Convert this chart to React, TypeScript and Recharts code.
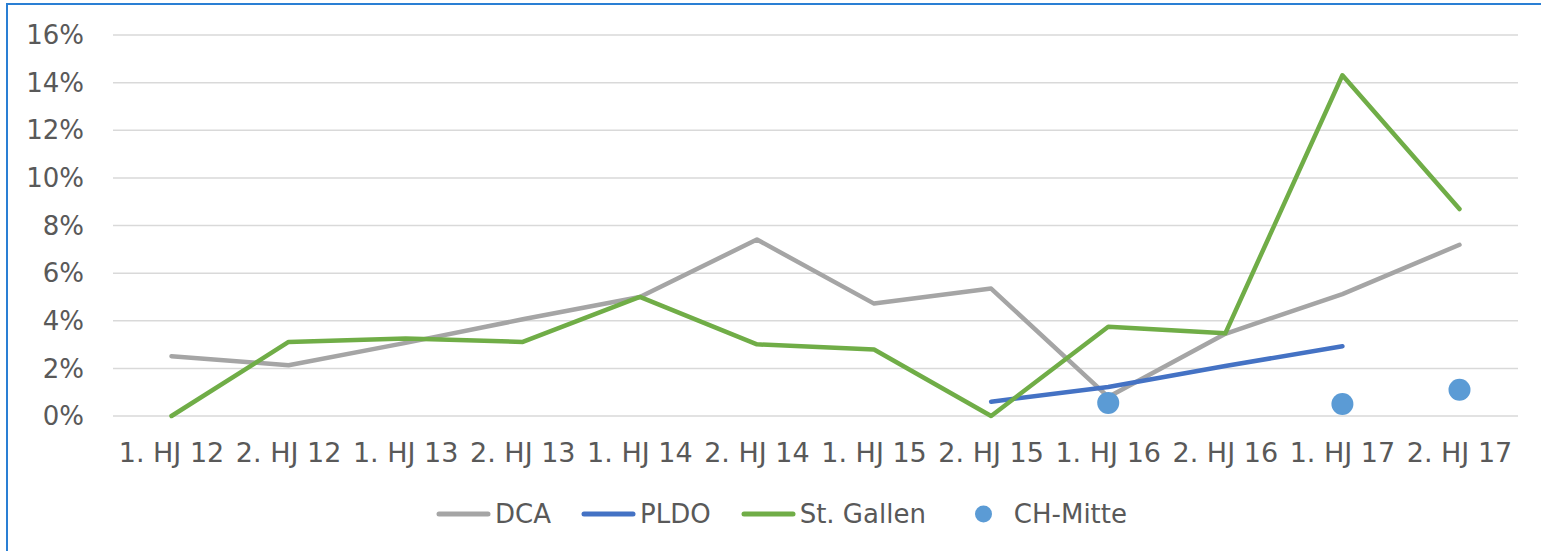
import { CartesianGrid, Line, LineChart, XAxis, YAxis } from "recharts";

const periods = [
  "1. HJ 12",
  "2. HJ 12",
  "1. HJ 13",
  "2. HJ 13",
  "1. HJ 14",
  "2. HJ 14",
  "1. HJ 15",
  "2. HJ 15",
  "1. HJ 16",
  "2. HJ 16",
  "1. HJ 17",
  "2. HJ 17",
];

const dca = [2.51, 2.13, 3.07, 4.06, 5.0, 7.41, 4.72, 5.35, 0.8, 3.45, 5.12, 7.19];
const pldo = [null, null, null, null, null, null, null, 0.6, 1.22, 2.1, 2.93, null];
const stGallen = [0, 3.11, 3.25, 3.11, 5.0, 3.01, 2.79, 0, 3.75, 3.47, 14.31, 8.69];
const chMitte = [null, null, null, null, null, null, null, null, 0.55, null, 0.5, 1.1];

const yTicks = [0, 2, 4, 6, 8, 10, 12, 14, 16];

const COLORS = {
  dca: "#a5a5a5",
  pldo: "#4472c4",
  stGallen: "#70ad47",
  chMitte: "#5b9bd5",
};

const FONT = "'DejaVu Sans', Verdana, sans-serif";
const TEXT = "#595959";

const data = periods.map((period, i) => ({
  period,
  dca: dca[i],
  pldo: pldo[i],
  stGallen: stGallen[i],
  chMitte: chMitte[i],
}));

const legendItems = [
  { label: "DCA", color: COLORS.dca, kind: "line" },
  { label: "PLDO", color: COLORS.pldo, kind: "line" },
  { label: "St. Gallen", color: COLORS.stGallen, kind: "line" },
  { label: "CH-Mitte", color: COLORS.chMitte, kind: "dot" },
];

function ChDot(props: any) {
  const { cx, cy, value, index } = props;
  if (value == null || cy == null) return <g key={`d-${index}`} />;
  return <circle key={`d-${index}`} cx={cx} cy={cy} r={11} fill={COLORS.chMitte} />;
}

export default function App() {
  return (
    <div
      style={{
        position: "absolute",
        left: 0,
        top: 0,
        width: 1541,
        height: 551,
        background: "#fff",
        overflow: "hidden",
        fontFamily: FONT,
      }}
    >
      <div
        style={{
          position: "absolute",
          left: 6,
          top: 3,
          width: 1600,
          height: 600,
          borderLeft: "2px solid #2a7fd4",
          borderTop: "2px solid #2a7fd4",
        }}
      />
      <div style={{ position: "absolute", left: 0, top: 0 }}>
        <LineChart
          width={1541}
          height={551}
          data={data}
          margin={{ top: 35, right: 23, left: 13, bottom: 75 }}
        >
          <CartesianGrid vertical={false} stroke="#d9d9d9" strokeWidth={1.5} />
          <XAxis
            dataKey="period"
            interval={0}
            axisLine={false}
            tickLine={false}
            height={60}
            tickMargin={21}
            padding={{ left: 58.5, right: 58.5 }}
            tick={{ fill: TEXT, fontSize: 27, fontFamily: FONT }}
          />
          <YAxis
            domain={[0, 16]}
            ticks={yTicks}
            width={100}
            axisLine={false}
            tickLine={false}
            tickMargin={23}
            tickFormatter={(v: number) => `${v}%`}
            tick={{ fill: TEXT, fontSize: 26, fontFamily: FONT }}
          />
          <Line
            type="linear"
            dataKey="dca"
            stroke={COLORS.dca}
            strokeWidth={4.5}
            strokeLinecap="round"
            strokeLinejoin="round"
            dot={false}
            isAnimationActive={false}
          />
          <Line
            type="linear"
            dataKey="pldo"
            stroke={COLORS.pldo}
            strokeWidth={4.5}
            strokeLinecap="round"
            strokeLinejoin="round"
            dot={false}
            isAnimationActive={false}
          />
          <Line
            type="linear"
            dataKey="stGallen"
            stroke={COLORS.stGallen}
            strokeWidth={4.5}
            strokeLinecap="round"
            strokeLinejoin="round"
            dot={false}
            isAnimationActive={false}
          />
          <Line
            type="linear"
            dataKey="chMitte"
            stroke="none"
            dot={ChDot}
            activeDot={false}
            isAnimationActive={false}
          />
        </LineChart>
      </div>
      {/* legend */}
      <div
        style={{
          position: "absolute",
          left: 436,
          top: 497,
          display: "flex",
          alignItems: "center",
          height: 34,
          color: TEXT,
          fontSize: 26,
          fontFamily: FONT,
        }}
      >
        {legendItems.map((item) => (
          <div
            key={item.label}
            style={{ display: "flex", alignItems: "center", marginRight: 30 }}
          >
            <svg width={55} height={20} style={{ marginRight: item.kind === "dot" ? 3 : 4 }}>
              {item.kind === "line" ? (
                <line
                  x1={3}
                  y1={10}
                  x2={52}
                  y2={10}
                  stroke={item.color}
                  strokeWidth={5}
                  strokeLinecap="round"
                />
              ) : (
                <circle cx={27.5} cy={10} r={8.5} fill={item.color} />
              )}
            </svg>
            <span style={{ whiteSpace: "nowrap" }}>{item.label}</span>
          </div>
        ))}
      </div>
    </div>
  );
}
